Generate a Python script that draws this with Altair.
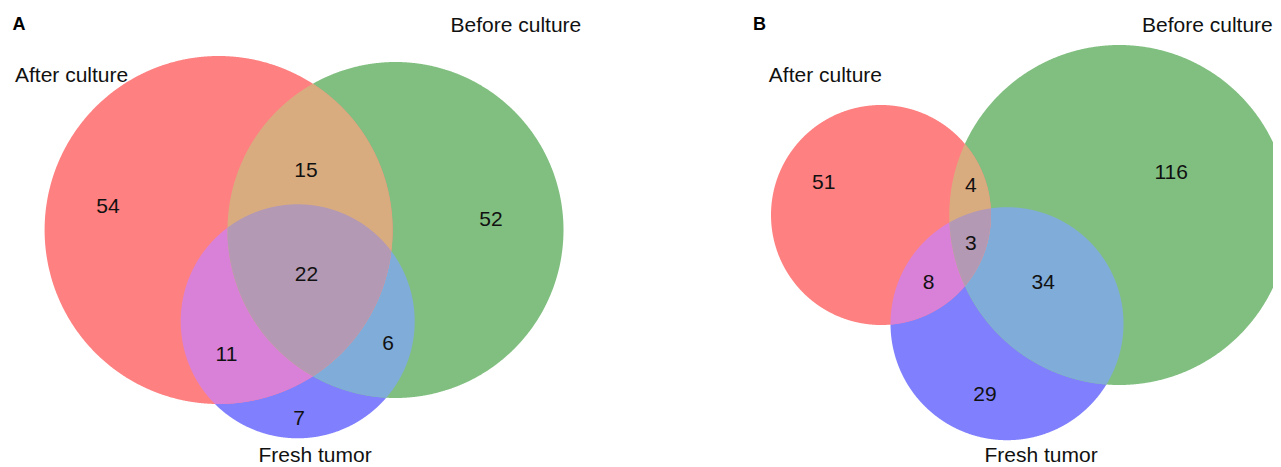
import altair as alt
import numpy as np
import pandas as pd

# ---------------- data ----------------
panels = ["A", "B"]
set_names = ["After culture", "Before culture", "Fresh tumor"]

# circle geometry of each Venn diagram (diagram units): After, Before, Fresh
circle_cx = {"A": [1.053, 1.9375, 1.4485], "B": [1.205, 2.3965, 1.835]}
circle_cy = {"A": [1.19, 1.19, 0.7335], "B": [1.265, 1.265, 0.7215]}
circle_r = {"A": [0.87, 0.84, 0.585], "B": [0.55, 0.85, 0.5825]}

# regions: membership code (After, Before, Fresh)
region_keys = ["100", "010", "001", "110", "101", "011", "111"]
region_colors = ["#FF8080", "#80BF80", "#8080FF", "#D9AC80", "#D980D9", "#80ACD9", "#B399B3"]
region_counts = {"A": [54, 52, 7, 15, 11, 6, 22], "B": [51, 116, 29, 4, 8, 34, 3]}
count_x = {"A": [0.50, 2.415, 1.455, 1.49, 1.0925, 1.90, 1.4925],
           "B": [0.9185, 2.656, 1.725, 1.654, 1.4435, 2.016, 1.654]}
count_y = {"A": [1.3075, 1.24, 0.2435, 1.4875, 0.565, 0.6225, 0.965],
           "B": [1.4235, 1.4735, 0.365, 1.4085, 0.9275, 0.9235, 1.119]}

# set label positions (left edge, baseline)
set_label_x = {"A": [0.035, 2.2125, 1.2525], "B": [0.644, 2.51, 1.7225]}
set_label_y = {"A": [1.9325, 2.1825, 0.03], "B": [1.9325, 2.1825, 0.03]}
panel_letter_x = {"A": 0.0225, "B": 0.565}
panel_letter_y = {"A": 2.1925, "B": 2.1925}

panel_width = {"A": 632, "B": 633}
PANEL_H = 460
PX_PER_UNIT = 200
FONT = "Liberation Sans, Arial, Helvetica, sans-serif"


def region_shape(p, key):
    members = [i for i, c in enumerate(key) if c == "1"]
    cx = np.array([circle_cx[p][i] for i in members])
    cy = np.array([circle_cy[p][i] for i in members])
    r = np.array([circle_r[p][i] for i in members])
    lo, hi = np.max(cx - r), np.min(cx + r)
    parts = [np.linspace(lo, hi, 400)]
    for c, rr in zip(cx, r):
        parts.append(c + rr * np.cos(np.linspace(0, np.pi, 260)))
    xs = np.unique(np.concatenate(parts))
    xs = xs[(xs >= lo) & (xs <= hi)]
    h = np.sqrt(np.clip(r[:, None] ** 2 - (xs[None, :] - cx[:, None]) ** 2, 0, None))
    ylo = np.max(cy[:, None] - h, axis=0)
    yhi = np.min(cy[:, None] + h, axis=0)
    keep = yhi >= ylo
    return pd.DataFrame({"px": np.round(xs[keep], 5), "ylo": np.round(ylo[keep], 5),
                         "yhi": np.round(yhi[keep], 5),
                         "region": key, "fillcol": region_colors[region_keys.index(key)],
                         "level": len(members)})


def panel_chart(p):
    w = panel_width[p]
    xs = alt.Scale(domain=[0, w / PX_PER_UNIT], nice=False, zero=False)
    ys = alt.Scale(domain=[0, PANEL_H / PX_PER_UNIT], nice=False, zero=False)
    shapes = pd.concat([region_shape(p, k) for k in region_keys], ignore_index=True)
    layers = []
    for lvl in [1, 2, 3]:
        d = shapes[shapes["level"] == lvl].sort_values(["region", "px"]).reset_index(drop=True)
        layers.append(
            alt.Chart(d).mark_area(clip=True).encode(
                x=alt.X("px:Q", scale=xs, axis=None),
                y=alt.Y("ylo:Q", scale=ys, axis=None),
                y2=alt.Y2("yhi:Q"),
                fill=alt.Fill("fillcol:N", scale=None),
                detail="region:N",
            )
        )
    counts_df = pd.DataFrame({"px": count_x[p], "py": count_y[p],
                              "label": [str(v) for v in region_counts[p]]})
    layers.append(
        alt.Chart(counts_df).mark_text(fontSize=21, font=FONT, align="center",
                                       baseline="middle", color="#111111").encode(
            x=alt.X("px:Q", scale=xs, axis=None),
            y=alt.Y("py:Q", scale=ys, axis=None),
            text="label:N",
        )
    )
    sets_df = pd.DataFrame({"px": set_label_x[p], "py": set_label_y[p], "label": set_names})
    layers.append(
        alt.Chart(sets_df).mark_text(fontSize=21, font=FONT, align="left",
                                     baseline="alphabetic", color="#111111").encode(
            x=alt.X("px:Q", scale=xs, axis=None),
            y=alt.Y("py:Q", scale=ys, axis=None),
            text="label:N",
        )
    )
    letter_df = pd.DataFrame({"px": [panel_letter_x[p]], "py": [panel_letter_y[p]], "label": [p]})
    layers.append(
        alt.Chart(letter_df).mark_text(fontSize=18, font=FONT, fontWeight="bold", align="left",
                                       baseline="alphabetic", color="#000000").encode(
            x=alt.X("px:Q", scale=xs, axis=None),
            y=alt.Y("py:Q", scale=ys, axis=None),
            text="label:N",
        )
    )
    return alt.layer(*layers).properties(width=w, height=PANEL_H)


chart = alt.hconcat(*[panel_chart(p) for p in panels], spacing=0, bounds="flush").properties(
    padding=0, background="white"
).configure_view(strokeWidth=0, strokeOpacity=0)

chart.save("out.html", embed_options={"renderer": "svg", "actions": False})
